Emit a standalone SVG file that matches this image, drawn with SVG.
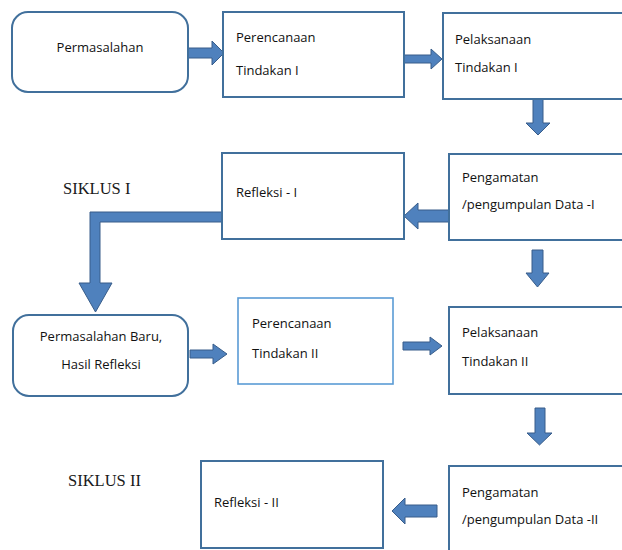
<svg xmlns="http://www.w3.org/2000/svg" width="622" height="550" viewBox="0 0 622 550">
<style>
.box{fill:#fff;stroke:#41709C;stroke-width:2}
.box2{fill:#fff;stroke:#5B9BD5;stroke-width:1.6}
.t{font-family:"Open Sans","Liberation Sans",sans-serif;font-size:13px;fill:#111}
.s{font-family:"Liberation Serif","Times New Roman",serif;font-size:16.5px;fill:#1a1a1a}
.arr{fill:#4F81BD;stroke:#385D8A;stroke-width:1}
</style>
<rect width="622" height="550" fill="#fff"/>
<g id="connectors">
<polygon class="arr" points="188,48 212,48 212,41 224,53 212,65 212,58 188,58"/>
<polygon class="arr" points="404,55 431,55 431,49 442,59 431,69 431,63 404,63"/>
<polygon class="arr" points="533,99 543,99 543,123 550,123 538,135 526,123 533,123"/>
<polygon class="arr" points="449,210 418,210 418,203 404,216 418,229 418,222 449,222"/>
<polygon class="arr" points="532,250 543,250 543,273 549,273 537.5,287 526,273 532,273"/>
<polygon class="arr" points="222,212 90,212 90,283 79,283 95.5,312 112,283 100,283 100,222 222,222"/>
<polygon class="arr" points="190,350 213,350 213,344 227,354 213,364 213,358 190,358"/>
<polygon class="arr" points="403,342 430,342 430,337 442,346 430,355 430,350 403,350"/>
<polygon class="arr" points="535,408 545,408 545,433 552,433 539.5,445 527,433 535,433"/>
<polygon class="arr" points="437,505 405,505 405,498 392,511 405,524 405,517 437,517"/>
</g>
<g id="permasalahan">
<rect class="box" x="12" y="12" width="176" height="80" rx="16"/>
<text class="t" x="100" y="52" text-anchor="middle">Permasalahan</text>
</g>
<g id="perencanaan1">
<rect class="box" x="223" y="12" width="181" height="85"/>
<text class="t" x="236" y="42">Perencanaan</text>
<text class="t" x="236" y="75">Tindakan I</text>
</g>
<g id="pelaksanaan1">
<rect class="box" x="443" y="13" width="185" height="86"/>
<text class="t" x="455" y="44">Pelaksanaan</text>
<text class="t" x="455" y="72">Tindakan I</text>
</g>
<g id="refleksi1">
<rect class="box" x="222" y="153" width="182" height="86"/>
<text class="t" x="236" y="197">Refleksi - I</text>
</g>
<g id="pengamatan1">
<rect class="box" x="449" y="154" width="180" height="86"/>
<text class="t" x="462" y="182">Pengamatan</text>
<text class="t" x="462" y="209">/pengumpulan Data -I</text>
</g>
<g id="siklus1">
<text class="s" x="63" y="194">SIKLUS I</text>
</g>
<g id="permasalahan-baru">
<rect class="box" x="13" y="315" width="175" height="81" rx="16"/>
<text class="t" x="101" y="341" text-anchor="middle">Permasalahan Baru,</text>
<text class="t" x="101" y="369" text-anchor="middle">Hasil Refleksi</text>
</g>
<g id="perencanaan2">
<rect class="box2" x="238" y="298" width="155" height="86"/>
<text class="t" x="252" y="328">Perencanaan</text>
<text class="t" x="252" y="358">Tindakan II</text>
</g>
<g id="pelaksanaan2">
<rect class="box" x="449" y="307" width="180" height="87"/>
<text class="t" x="462" y="337">Pelaksanaan</text>
<text class="t" x="462" y="366">Tindakan II</text>
</g>
<g id="siklus2">
<text class="s" x="68" y="486">SIKLUS II</text>
</g>
<g id="refleksi2">
<rect class="box" x="201" y="461" width="182" height="87"/>
<text class="t" x="214" y="507">Refleksi - II</text>
</g>
<g id="pengamatan2">
<rect class="box" x="449" y="466" width="180" height="90"/>
<text class="t" x="462" y="497">Pengamatan</text>
<text class="t" x="462" y="524">/pengumpulan Data -II</text>
</g>
</svg>
